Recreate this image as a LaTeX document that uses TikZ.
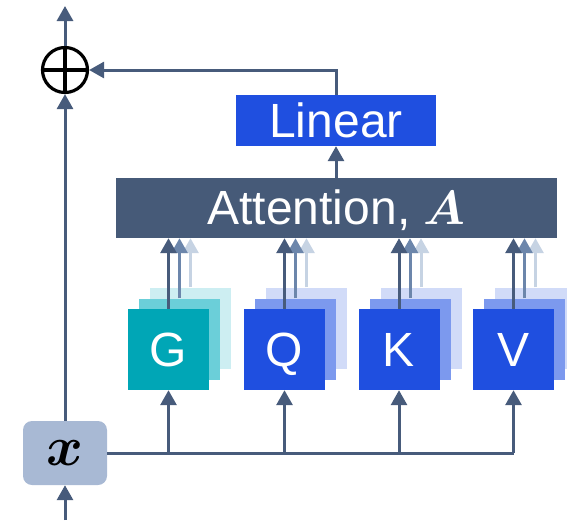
\documentclass[tikz,border=0pt]{standalone}
\usepackage{fix-cm}
\usepackage{amsmath}
\usepackage{bm}
\usepackage{fontspec}
\setmainfont{Liberation Sans}
\usetikzlibrary{arrows.meta}
\usetikzlibrary{positioning}
\definecolor{edge}{HTML}{475B7B}
\definecolor{edgemid}{HTML}{6C86AB}
\definecolor{edgelight}{HTML}{C6D3E3}
\definecolor{slate}{HTML}{465A78}
\definecolor{inbox}{HTML}{A8B9D4}
\definecolor{teal1}{HTML}{00A6B6}
\definecolor{teal2}{HTML}{6BCFD9}
\definecolor{teal3}{HTML}{CDEEF2}
\definecolor{blue1}{HTML}{1F4FE0}
\definecolor{blue2}{HTML}{7C99EE}
\definecolor{blue3}{HTML}{D1DBF8}
\tikzset{line/.style = {draw=edge, line width=3pt}}
\tikzset{tip/.style = {-{Triangle[length=15pt,width=16pt]}}}
\tikzset{big/.style = {font=\fontsize{48}{56}\selectfont, text height=33pt, text depth=0pt}}
\tikzset{box/.style = {big, text=white, inner sep=0, minimum width=81, minimum height=81}}

\begin{document}
\begin{tikzpicture}[x=1pt, y=-1pt]
  \useasboundingbox (0,0) rectangle (567,520);
  % input and residual path
  \node [fill=inbox, rounded corners=9pt, minimum width=84, minimum height=64, inner sep=0,
         font=\fontsize{56}{64}\selectfont] (x) at (65,453) {$\bm{x}$};
  \node [circle, draw=black, line width=3.2pt, minimum size=45, inner sep=0] (add) at (65,70) {};
  \draw [line width=3.2pt] (add.north) -- (add.south);
  \draw [line width=3.2pt] (add.west) -- (add.east);
  \coordinate (in) at (65,520);
  \coordinate (out) at (65,6);
  \draw [line, tip] (in) -- (x.south);
  \draw [line, tip] (x.north) -- (add.south);
  \draw [line, tip] (add.north) -- (out);
  % attention and output projection
  \node [fill=slate, text=white, big, minimum width=441, minimum height=60, inner sep=0] (att) at (336.5,208) {Attention, $\bm{A}$};
  \node [fill=blue1, text=white, big, minimum width=200, minimum height=51, inner sep=0] (lin) at (336,120.5) {Linear};
  \draw [line, tip] (att.north -| lin.south) -- (lin.south);
  \draw [line, tip] (lin.north) |- (add.east);
  % stacked heads
  \foreach \name/\cx/\front/\mid/\back in {G/168.5/teal1/teal2/teal3, Q/284.5/blue1/blue2/blue3,
                                          K/399/blue1/blue2/blue3, V/513.5/blue1/blue2/blue3} {
    \node [box, fill=\back] (\name b) at (\cx+22,328) {};
    \node [box, fill=\mid] (\name m) at (\cx+11,339) {};
    \node [box, fill=\front] (\name) at (\cx,349.5) {\name};
    \draw [draw=edgelight, line width=3pt, tip] (\name b.north) -- (\name b.north |- att.south);
    \draw [draw=edgemid, line width=3pt, tip] (\name m.north) -- (\name m.north |- att.south);
    \draw [line, tip] (\name.north) -- (\name.north |- att.south);
    \draw [line, tip] (\name.south |- x.east) -- (\name.south);
  }
  \draw [line] (x.east) -- (V.south |- x.east);
\end{tikzpicture}
\end{document}
